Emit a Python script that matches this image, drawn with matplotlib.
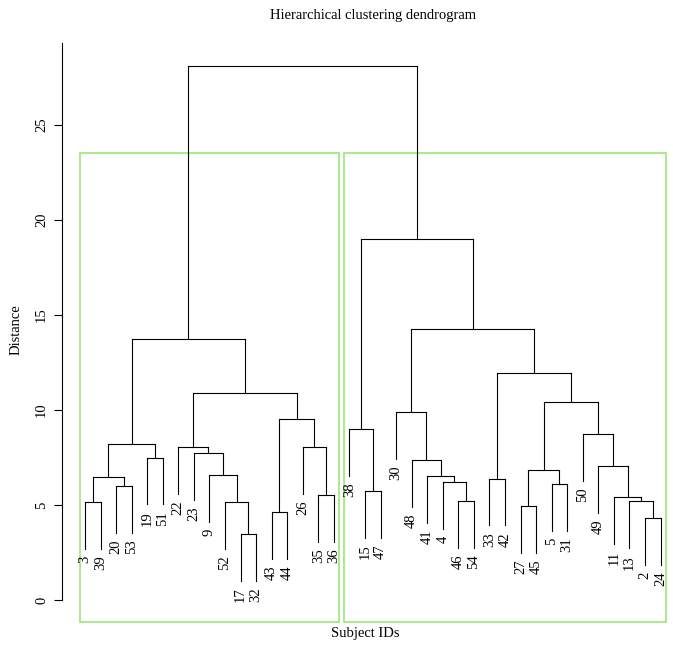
import matplotlib
matplotlib.use("Agg")
import matplotlib.pyplot as plt

# R-style hclust merge table: negative = subject ID (leaf), positive = earlier merge step (1-based)
merge_left = [-17, -2, -43, -27, -3, -52, -13, -46, -11, -35, -15, -20, -5, -4, -33, 5, -41, -9,
              4, -49, -48, -19, -23, -22, -26, 16, -50, -38, 3, -30, 19, 24, 15, 26, 30, 28, 34]
merge_right = [-32, -24, -44, -45, -39, 1, 2, -54, 7, -36, -47, -53, -31, 8, -42, 12, 14, 6,
               13, 9, 17, -51, 18, 23, 10, 22, 20, 11, 25, 21, 27, 29, 31, 32, 33, 35, 36]
merge_height = [3.47, 4.30, 4.61, 4.93, 5.16, 5.14, 5.19, 5.21, 5.40, 5.51, 5.72, 6.00, 6.09, 6.19,
                6.39, 6.46, 6.54, 6.56, 6.86, 7.05, 7.37, 7.49, 7.72, 8.05, 8.05, 8.21, 8.72, 9.00,
                9.54, 9.89, 10.40, 10.91, 11.95, 13.74, 14.26, 19.00, 28.10]
n_clusters = 2
y_ticks = [0, 5, 10, 15, 20, 25]

plt.rcParams['font.family'] = ['Liberation Serif', 'DejaVu Serif']

fig = plt.figure(figsize=(6.73, 6.52), dpi=100)
W, H = 673, 652
n_leaves = len(merge_height) + 1
x_lo, x_hi = 1 - 0.04 * (n_leaves - 1), n_leaves + 0.04 * (n_leaves - 1)
y_lo, y_hi = -1.16, 29.3
ax = fig.add_axes([62 / W, (H - 622) / H, (683.6 - 62) / W, (622 - 43.3) / H])
ax.set_xlim(x_lo, x_hi)
ax.set_ylim(y_lo, y_hi)

hang = 0.1 * (max(merge_height) - min(merge_height))

# leaf order from a left-to-right walk of the tree
order = []
def walk(node):
    if node < 0:
        order.append(-node)
    else:
        walk(merge_left[node - 1])
        walk(merge_right[node - 1])
walk(len(merge_height))
leaf_x = {lab: i + 1 for i, lab in enumerate(order)}

node_x = {}
def draw(node):
    # returns (x, y) of the top of this node
    if node < 0:
        return leaf_x[-node], None
    i = node - 1
    h = merge_height[i]
    pts = []
    for child in (merge_left[i], merge_right[i]):
        cx, cy = draw(child)
        if cy is None:
            cy = h - hang
            ax.text(cx, cy - 0.35, str(-child), rotation=90, ha='center', va='top',
                    fontsize=10.5, clip_on=False)
        ax.plot([cx, cx], [cy, h], color='black', lw=0.8)
        pts.append(cx)
    ax.plot(pts, [h, h], color='black', lw=0.8)
    return sum(pts) / 2, h
draw(len(merge_height))

# rect.hclust-style boxes around the top clusters
cut_h = (merge_height[-1] + merge_height[-2]) / 2
top = len(merge_height)
sizes = []
def count(node):
    return 1 if node < 0 else count(merge_left[node - 1]) + count(merge_right[node - 1])
for child in (merge_left[top - 1], merge_right[top - 1]):
    sizes.append(count(child))
start = 0
for s in sizes:
    ax.add_patch(plt.Rectangle((start + 0.66, y_lo), s - 0.33, cut_h - y_lo, fill=False,
                               edgecolor='#9be67a', lw=1.2, clip_on=False))
    start += s

for side in ['top', 'right', 'bottom']:
    ax.spines[side].set_visible(False)
ax.spines['left'].set_bounds(0, y_hi)
ax.spines['left'].set_linewidth(0.8)
ax.set_xticks([])
ax.set_yticks(y_ticks)
ax.set_yticklabels([str(t) for t in y_ticks], rotation=90, va='center', fontsize=10.5)
ax.tick_params(axis='y', length=6, width=0.8, pad=4)

fig.text(373 / W, 1 - 16 / H, 'Hierarchical clustering dendrogram', ha='center', va='center', fontsize=10.5)
fig.text(365 / W, 1 - 634 / H, 'Subject IDs', ha='center', va='center', fontsize=10.5)
fig.text(16 / W, 1 - 330 / H, 'Distance', ha='center', va='center', rotation=90, fontsize=10.5)

fig.savefig('out.png', dpi=100)
